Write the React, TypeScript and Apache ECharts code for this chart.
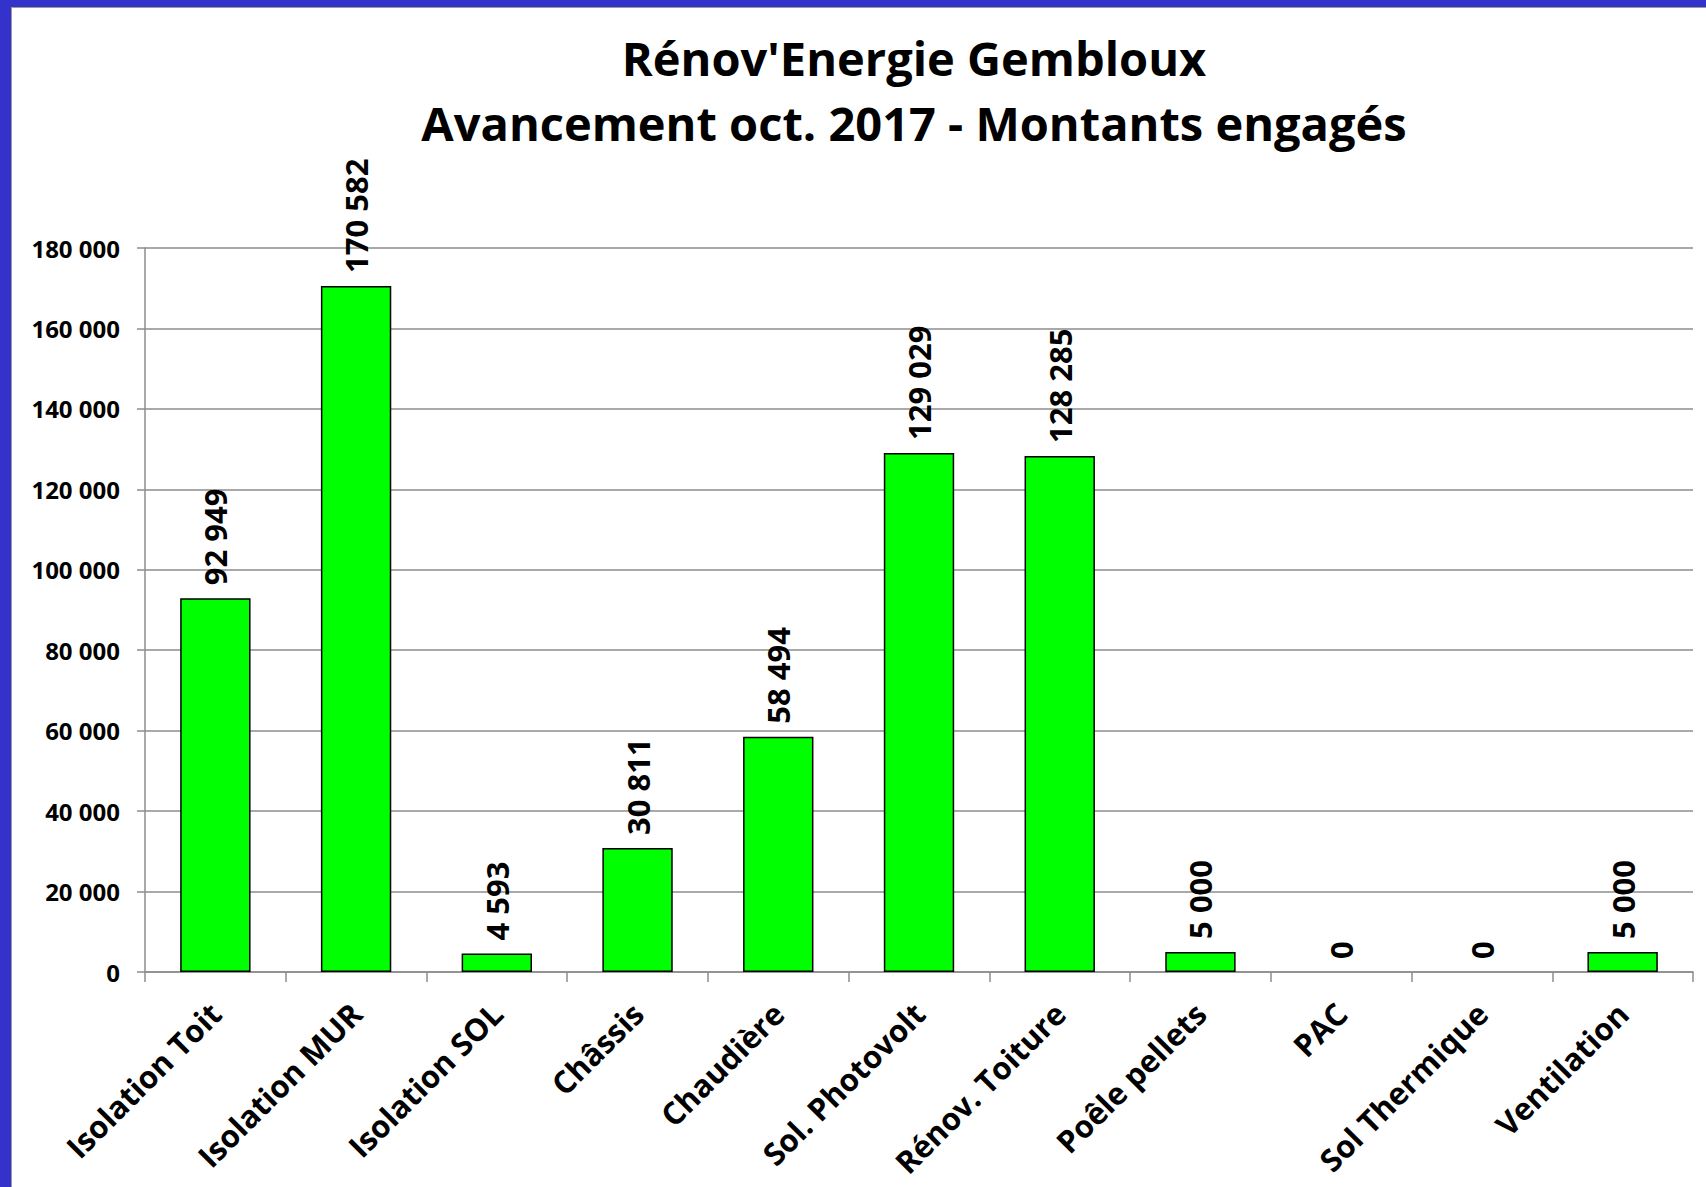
import React, { useEffect, useRef } from "react";
import * as echarts from "echarts";

const categories = [
  "Isolation Toit",
  "Isolation MUR",
  "Isolation SOL",
  "Châssis",
  "Chaudière",
  "Sol. Photovolt",
  "Rénov. Toiture",
  "Poêle pellets",
  "PAC",
  "Sol Thermique",
  "Ventilation",
];
const values = [92949, 170582, 4593, 30811, 58494, 129029, 128285, 5000, 0, 0, 5000];
const titleLines = ["Rénov'Energie Gembloux", "Avancement oct. 2017 - Montants engagés"];
const yMin = 0;
const yMax = 180000;
const yInterval = 20000;

const fmt = (v: number) => String(v).replace(/\B(?=(\d{3})+(?!\d))/g, " ");

const FONT = "'Open Sans', sans-serif";

export default function App() {
  const ref = useRef<HTMLDivElement>(null);
  useEffect(() => {
    if (!ref.current) return;
    const chart = echarts.init(ref.current, undefined, { renderer: "svg" });
    const seriesData = values.map((v) =>
      v === 0 ? { value: v, itemStyle: { borderWidth: 0, color: "transparent" } } : v
    );
    chart.setOption({
      animation: false,
      backgroundColor: "#ffffff",
      textStyle: { fontFamily: FONT },
      graphic: [
        { type: "rect", shape: { x: 0, y: 0, width: 11, height: 1187 }, style: { fill: "#3333cc" }, z: 100 },
        { type: "rect", shape: { x: 0, y: 0, width: 1706, height: 7 }, style: { fill: "#3333cc" }, z: 100 },
        { type: "line", shape: { x1: 11.5, y1: 7, x2: 11.5, y2: 1187 }, style: { stroke: "#9a9a9a", lineWidth: 1 }, z: 100 },
        { type: "line", shape: { x1: 11, y1: 7.5, x2: 1706, y2: 7.5 }, style: { stroke: "#9a9a9a", lineWidth: 1 }, z: 100 },
        {
          type: "text",
          x: 914,
          y: 58,
          style: {
            text: titleLines[0],
            fontFamily: FONT,
            fontWeight: "bold",
            fontSize: 47,
            fill: "#000",
            align: "center",
            verticalAlign: "middle",
          },
        },
        {
          type: "text",
          x: 914,
          y: 123,
          style: {
            text: titleLines[1],
            fontFamily: FONT,
            fontWeight: "bold",
            fontSize: 47,
            fill: "#000",
            align: "center",
            verticalAlign: "middle",
          },
        },
      ],
      grid: { left: 145, right: 13, top: 248, bottom: 215, containLabel: false },
      xAxis: {
        type: "category",
        data: categories,
        boundaryGap: true,
        axisLine: { show: true, lineStyle: { color: "#8c8c8c", width: 1.5 } },
        axisTick: { show: true, length: 10, alignWithLabel: false, lineStyle: { color: "#8c8c8c", width: 1.5 } },
        axisLabel: {
          interval: 0,
          rotate: 45,
          margin: 36,
          fontFamily: FONT,
          fontWeight: "bold",
          fontSize: 31,
          color: "#000",
        },
      },
      yAxis: {
        type: "value",
        min: yMin,
        max: yMax,
        interval: yInterval,
        axisLine: { show: true, lineStyle: { color: "#8c8c8c", width: 1.5 } },
        axisTick: { show: true, length: 8, inside: false, lineStyle: { color: "#8c8c8c", width: 1.5 } },
        splitLine: { show: true, lineStyle: { color: "#8c8c8c", width: 1.5 } },
        axisLabel: {
          margin: 25,
          fontFamily: FONT,
          fontWeight: "bold",
          fontSize: 24,
          color: "#000",
          formatter: (v: number) => fmt(v),
        },
      },
      series: [
        {
          type: "bar",
          data: seriesData,
          barWidth: "50%",
          itemStyle: { color: "#00ff00", borderColor: "#000", borderWidth: 1.5 },
          label: {
            show: true,
            position: "top",
            rotate: 90,
            align: "left",
            verticalAlign: "middle",
            distance: 13,
            fontFamily: FONT,
            fontWeight: "bold",
            fontSize: 31,
            color: "#000",
            formatter: (p: any) => fmt(p.value),
          },
        },
      ],
    });
    return () => chart.dispose();
  }, []);
  return (
    <div style={{ position: "absolute", left: 0, top: 0, width: 1706, height: 1187 }}>
      <div ref={ref} style={{ width: 1706, height: 1187 }} />
    </div>
  );
}
